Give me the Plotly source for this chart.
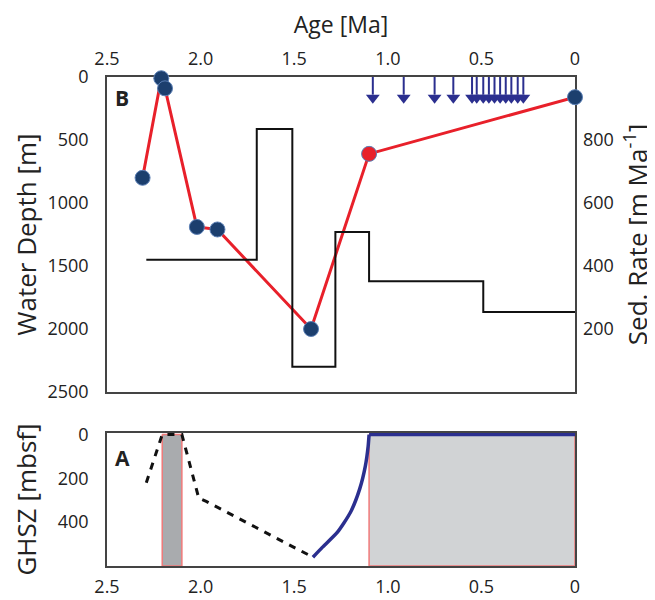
import plotly.graph_objects as go

# ---------------- data ----------------
# Panel B: water depth reconstruction (age Ma, depth m)
wd_age = [2.31, 2.21, 2.19, 2.02, 1.91, 1.41, 1.10, 0.0]
wd_depth = [800, 10, 90, 1190, 1210, 2000, 610, 160]
wd_color_flag = ["blue", "blue", "blue", "blue", "blue", "blue", "red", "blue"]

# Panel B: sedimentation rate steps (start age, rate m/Ma)
sr_age = [2.29, 1.70, 1.51, 1.28, 1.10, 0.49, 0.0]
sr_rate = [420, 835, 80, 508, 352, 254, 254]

# Panel B: event arrows (ages)
arrow_age = [1.08, 0.915, 0.75, 0.65, 0.55, 0.525, 0.49, 0.46, 0.43, 0.40,
             0.37, 0.34, 0.306, 0.276]

# Panel A: GHSZ base (dashed, inferred) and modelled (solid)
ghsz_dash_age = [2.29, 2.205, 2.10, 2.01, 1.97, 1.40]
ghsz_dash_depth = [220, 0, 0, 290, 305, 560]
ghsz_solid_age = [1.40, 1.35, 1.27, 1.20, 1.15, 1.12, 1.105, 1.10, 0.0]
ghsz_solid_depth = [560, 515, 447, 356, 248, 144, 54, 0, 0]

# Panel A: hydrate stability intervals (age from, age to, fill)
hyd_from = [2.205, 1.10]
hyd_to = [2.10, 0.0]
hyd_fill = ["#a9abae", "#d1d3d5"]

x_ticks = [2.5, 2.0, 1.5, 1.0, 0.5, 0.0]
x_ticktext = ["2.5", "2.0", "1.5", "1.0", "0.5", "0"]

# ---------------- styles ----------------
FONT = "Open Sans"
TXT = "#222222"
NAVY = "#2b2f8f"
RED = "#e8202a"
FRAME = "#444444"

fig = go.Figure()

# ---- Panel A ----
for a0, a1, fc in zip(hyd_from, hyd_to, hyd_fill):
    fig.add_trace(go.Scatter(
        x=[a0, a1, a1, a0, a0], y=[0, 0, 600, 600, 0],
        fill="toself", fillcolor=fc, mode="lines",
        line=dict(color="#f07a7a", width=1.5),
        xaxis="x", yaxis="y", showlegend=False, hoverinfo="skip",
        cliponaxis=False))

fig.add_trace(go.Scatter(
    x=ghsz_dash_age, y=ghsz_dash_depth, mode="lines",
    line=dict(color="#111111", width=3, dash="7px,7px"),
    xaxis="x", yaxis="y", showlegend=False, cliponaxis=False))
# curved part (smoothed) and the flat part at the seafloor (straight)
fig.add_trace(go.Scatter(
    x=ghsz_solid_age[:-1], y=ghsz_solid_depth[:-1], mode="lines",
    line=dict(color=NAVY, width=3.5, shape="spline", smoothing=0.6),
    xaxis="x", yaxis="y", showlegend=False, cliponaxis=False))
fig.add_trace(go.Scatter(
    x=ghsz_solid_age[-2:], y=ghsz_solid_depth[-2:], mode="lines",
    line=dict(color=NAVY, width=3.5),
    xaxis="x", yaxis="y", showlegend=False, cliponaxis=False))

# ---- Panel B ----
fig.add_trace(go.Scatter(
    x=sr_age, y=sr_rate, mode="lines",
    line=dict(color="#111111", width=2, shape="hv"),
    xaxis="x2", yaxis="y3", showlegend=False))

stem_x, stem_y = [], []
for a in arrow_age:
    stem_x += [a, a, None]
    stem_y += [0, 140, None]
fig.add_trace(go.Scatter(
    x=stem_x, y=stem_y, mode="lines", line=dict(color=NAVY, width=2),
    xaxis="x2", yaxis="y2", showlegend=False, hoverinfo="skip"))
fig.add_trace(go.Scatter(
    x=arrow_age, y=[165] * len(arrow_age), mode="markers",
    marker=dict(symbol="triangle-down", size=12, color=NAVY, line=dict(width=0)),
    xaxis="x2", yaxis="y2", showlegend=False))

fig.add_trace(go.Scatter(
    x=wd_age, y=wd_depth, mode="lines+markers",
    line=dict(color=RED, width=3),
    marker=dict(size=15,
                color=[RED if c == "red" else "#1c3f6e" for c in wd_color_flag],
                line=dict(color="#5b7fb5", width=1)),
    xaxis="x2", yaxis="y2", showlegend=False, cliponaxis=False))

tickfont = dict(family=FONT, size=18, color=TXT)
htitlefont = dict(family=FONT, size=23, color=TXT)
vtitlefont = dict(family=FONT, size=26, color=TXT)
axline = dict(showline=True, linecolor=FRAME, linewidth=1.5, mirror=True,
              showgrid=False, zeroline=False, ticks="", layer="below traces",
              automargin=False)

# the page body adds an 8px offset, so the figure is sized to compensate
fig.update_layout(
    template="none",
    width=647, height=592,
    margin=dict(l=99, r=80, t=69, b=34),
    paper_bgcolor="white", plot_bgcolor="white",
    xaxis=dict(domain=[0, 1], anchor="y", range=[2.5, 0],
               tickvals=x_ticks, ticktext=x_ticktext, tickfont=tickfont,
               ticklabelstandoff=4, **axline),
    yaxis=dict(domain=[0, 0.272], anchor="x", range=[600, -7],
               tickvals=[0, 200, 400], tickfont=tickfont, ticklabelstandoff=13,
               title=dict(text="GHSZ [mbsf]", font=vtitlefont, standoff=19),
               **axline),
    xaxis2=dict(domain=[0, 1], anchor="y2", side="top", range=[2.5, 0],
                tickvals=x_ticks, ticktext=x_ticktext, tickfont=tickfont,
                ticklabelstandoff=3,
                title=dict(text="Age [Ma]", font=htitlefont, standoff=9),
                **axline),
    yaxis2=dict(domain=[0.3558, 1], anchor="x2", range=[2500, 0],
                tickvals=[0, 500, 1000, 1500, 2000, 2500], tickfont=tickfont,
                ticklabelstandoff=13,
                title=dict(text="Water Depth [m]", font=vtitlefont, standoff=11),
                **axline),
    yaxis3=dict(overlaying="y2", anchor="x2", side="right", range=[0, 1000],
                tickvals=[200, 400, 600, 800], tickfont=tickfont,
                ticklabelstandoff=7, showgrid=False, zeroline=False, ticks="",
                showline=False, automargin=False,
                title=dict(text="Sed. Rate [m Ma<sup>-1</sup>]", font=vtitlefont,
                           standoff=24)),
)

fig.add_annotation(text="<b>B</b>", xref="x2 domain", yref="y2 domain",
                   x=0.012, y=0.985, xanchor="left", yanchor="top",
                   showarrow=False, font=dict(family=FONT, size=21, color=TXT))
fig.add_annotation(text="<b>A</b>", xref="x domain", yref="y domain",
                   x=0.012, y=0.93, xanchor="left", yanchor="top",
                   showarrow=False, font=dict(family=FONT, size=21, color=TXT))

fig.write_html("out.html")
